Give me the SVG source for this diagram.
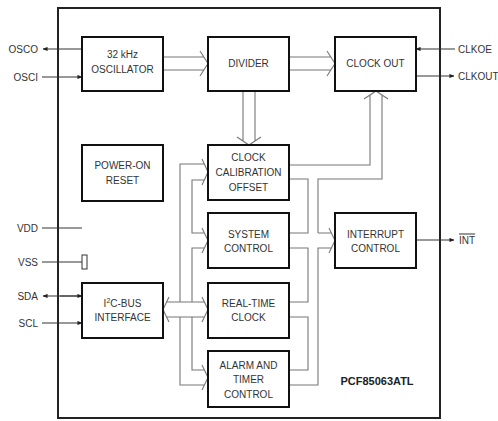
<svg xmlns="http://www.w3.org/2000/svg" width="498" height="421" viewBox="0 0 498 421">
<style>
text{font-family:"Liberation Sans",Arial,sans-serif;font-size:10px;fill:#333;text-anchor:middle}
.lbl{text-anchor:end}
.rl{text-anchor:start}
.box{fill:#fff;stroke:#111;stroke-width:2}
.bus{fill:none;stroke:#777;stroke-width:1.1}
.sig{fill:none;stroke:#333;stroke-width:1}
.title{font-weight:bold;font-size:11px;fill:#222}
</style>
<defs>
<marker id="ah" viewBox="0 0 6 6" refX="5.5" refY="3" markerWidth="5" markerHeight="5" orient="auto" markerUnits="userSpaceOnUse">
<path d="M0,0.5 L6,3 L0,5.5 Z" fill="#222"/>
</marker>
</defs>
<rect x="58" y="8" width="382" height="410" fill="#fff" stroke="#222" stroke-width="2"/>
<g id="connectors">
<line class="sig" x1="82" y1="49" x2="43" y2="49" marker-end="url(#ah)"/>
<line class="sig" x1="42" y1="77" x2="82" y2="77" marker-end="url(#ah)"/>
<line class="sig" x1="42" y1="228" x2="82" y2="228"/>
<line class="sig" x1="42" y1="262" x2="82" y2="262"/>
<line class="sig" x1="82" y1="296" x2="43" y2="296" marker-end="url(#ah)"/>
<line class="sig" x1="60" y1="296" x2="82" y2="296" marker-end="url(#ah)"/>
<line class="sig" x1="42" y1="323" x2="82" y2="323" marker-end="url(#ah)"/>
<line class="sig" x1="455" y1="49" x2="416" y2="49" marker-end="url(#ah)"/>
<line class="sig" x1="416" y1="76" x2="454" y2="76" marker-end="url(#ah)"/>
<line class="sig" x1="416" y1="240" x2="454" y2="240" marker-end="url(#ah)"/>
<path class="bus" d="M163,57 H204 M163,70 H204 M200,51 L208,63.5 L200,76"/>
<path class="bus" d="M289,57 H331 M289,70 H331 M327,51 L335,63.5 L327,76"/>
<path class="bus" d="M243,91 V141 M255,91 V141 M237,137 L249,145 L261,137"/>
<path class="bus" d="M289,165 H370 V95 M318,233 V179 H382 V95 M364,99 L376,91 L388,99"/>
<path class="bus" d="M204,164 H180 V302 M180,317 V385 H204"/>
<path class="bus" d="M204,180 H192 V233 H204 M204,248 H192 V302 M192,317 V370 H204"/>
<path class="bus" d="M167,302 H204 M167,317 H204"/>
<path class="bus" d="M202,159 L208,172 L202,185 M202,228 L208,240.5 L202,253 M202,297 L208,309.5 L202,322 M202,365 L208,377.5 L202,390 M169,297 L163,309.5 L169,322"/>
<path class="bus" d="M289,179 H308 V233 H289 M289,248 H308 V302 H289 M289,317 H308 V370 H289"/>
<path class="bus" d="M318,233 H331 M331,248 H318 V385 H289 M329,228 L335,240.5 L329,253"/>
</g>
<g id="oscillator"><rect class="box" x="82" y="37" width="81" height="54"/><text x="122.5" y="57.5">32 kHz</text><text x="122.5" y="72.5">OSCILLATOR</text></g>
<g id="divider"><rect class="box" x="208" y="37" width="81" height="54"/><text x="248.5" y="66.5">DIVIDER</text></g>
<g id="clockout"><rect class="box" x="335" y="37" width="81" height="54"/><text x="375.5" y="66.5">CLOCK OUT</text></g>
<g id="poweron"><rect class="box" x="82" y="145" width="81" height="56"/><text x="122.5" y="168.5">POWER-ON</text><text x="122.5" y="183.5">RESET</text></g>
<g id="clockcal"><rect class="box" x="208" y="145" width="81" height="55"/><text x="248.5" y="160.5">CLOCK</text><text x="248.5" y="175.5">CALIBRATION</text><text x="248.5" y="190.5">OFFSET</text></g>
<g id="syscontrol"><rect class="box" x="208" y="213" width="81" height="55"/><text x="248.5" y="237.5">SYSTEM</text><text x="248.5" y="251.5">CONTROL</text></g>
<g id="interrupt"><rect class="box" x="335" y="213" width="81" height="55"/><text x="375.5" y="237.5">INTERRUPT</text><text x="375.5" y="251.5">CONTROL</text></g>
<g id="i2c"><rect class="box" x="82" y="283" width="81" height="55"/><text x="122.5" y="306.5">I<tspan font-size="7" dy="-3.5">2</tspan><tspan dy="3.5">C-BUS</tspan></text><text x="122.5" y="320.5">INTERFACE</text></g>
<g id="rtc"><rect class="box" x="208" y="283" width="81" height="55"/><text x="248.5" y="306.5">REAL-TIME</text><text x="248.5" y="320.5">CLOCK</text></g>
<g id="alarm"><rect class="box" x="208" y="351" width="81" height="56"/><text x="248.5" y="368.5">ALARM AND</text><text x="248.5" y="382.5">TIMER</text><text x="248.5" y="397.5">CONTROL</text></g>
<g id="vss-cap"><rect x="82" y="255" width="5" height="14" fill="#fff" stroke="#333" stroke-width="1"/></g>
<g id="pins">
<text class="lbl" x="38" y="52.5">OSCO</text>
<text class="lbl" x="38" y="80.5">OSCI</text>
<text class="lbl" x="38" y="231.5">VDD</text>
<text class="lbl" x="38" y="265.5">VSS</text>
<text class="lbl" x="38" y="299.5">SDA</text>
<text class="lbl" x="38" y="326.5">SCL</text>
<text class="rl" x="458" y="52.5">CLKOE</text>
<text class="rl" x="458" y="79.5">CLKOUT</text>
<text class="rl" x="459" y="243.5" text-decoration="overline">INT</text>
</g>
<text class="title" x="377" y="385">PCF85063ATL</text>
</svg>
